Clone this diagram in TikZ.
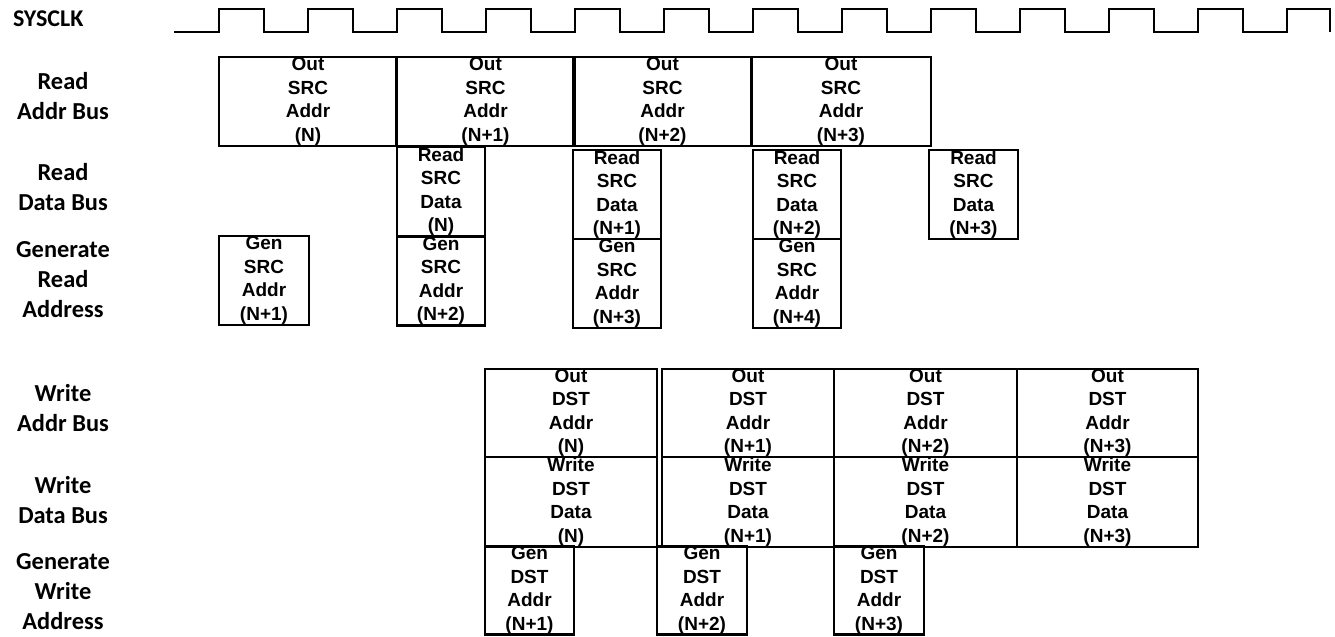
\documentclass[tikz,border=0pt]{standalone}
\usepackage{fontspec}
\setmainfont{Liberation Sans}[BoldFont={Liberation Sans Bold}]
\newfontfamily\boxfont{Liberation Sans}[BoldFont={Liberation Sans Bold}]
\newfontfamily\lblfont{Carlito}[BoldFont={Carlito Bold}]

\begin{document}
\begin{tikzpicture}[x=0.5pt,y=-0.5pt,
  bx/.style={draw, line width=1.45pt, inner sep=0pt, align=center,
    font=\boxfont\bfseries\fontsize{9.5}{11.75}\selectfont},
  wide/.style={bx, minimum width=89pt, minimum height=44.5pt},
  narrow/.style={bx, minimum width=44.5pt, minimum height=44.5pt},
  lbl/.style={align=center, font=\lblfont\bfseries\fontsize{12.2}{15}\selectfont}]
  \useasboundingbox (0,0) rectangle (1335,637);

  % clock
  \node[anchor=west, font=\lblfont\bfseries\fontsize{12}{14}\selectfont] (sysclk) at (6,19) {SYSCLK};
  \draw[line width=1.1pt] (174,32) -| (219,9) -| (264,32) -| (308,9) -| (353,32)
    -| (397,9) -| (442,32) -| (486,9) -| (531,32) -| (575,9) -| (620,32)
    -| (664,9) -| (709,32) -| (753,9) -| (798,32) -| (842,9) -| (887,32)
    -| (931,9) -| (976,32) -| (1020,9) -| (1065,32) -| (1109,9) -| (1154,32)
    -| (1198,9) -| (1243,32) -| (1287,9) -| (1330,32);

  % row labels
  \node[lbl] (lra) at (63,96)  {Read\\Addr Bus};
  \node[lbl] (lrd) at (63,187) {Read\\Data Bus};
  \node[lbl] (lgr) at (63,280) {Generate\\Read\\Address};
  \node[lbl] (lwa) at (63,408) {Write\\Addr Bus};
  \node[lbl] (lwd) at (63,500) {Write\\Data Bus};
  \node[lbl] (lgw) at (63,592) {Generate\\Write\\Address};

  % read side
  \node[wide] (rab1) at (308,101.5)   {Out\\SRC\\Addr\\(N)};
  \node[wide] (rab2) at (485.5,101.5) {Out\\SRC\\Addr\\(N+1)};
  \node[wide] (rab3) at (662.5,101.5) {Out\\SRC\\Addr\\(N+2)};
  \node[wide, minimum width=90pt] (rab4) at (841,101.5) {Out\\SRC\\Addr\\(N+3)};

  \node[narrow, minimum width=44pt, minimum height=45pt] (rdb1) at (441,191.5) {Read\\SRC\\Data\\(N)};
  \node[narrow, minimum width=44pt] (rdb2) at (617,194.5)   {Read\\SRC\\Data\\(N+1)};
  \node[narrow, minimum width=44pt] (rdb3) at (797,194.5)   {Read\\SRC\\Data\\(N+2)};
  \node[narrow] (rdb4) at (973.5,194.5) {Read\\SRC\\Data\\(N+3)};

  \node[narrow, minimum width=45pt] (gra1) at (264,280.5) {Gen\\SRC\\Addr\\(N+1)};
  \node[narrow, minimum width=44pt] (gra2) at (441,281)   {Gen\\SRC\\Addr\\(N+2)};
  \node[narrow, minimum width=44pt] (gra3) at (617,283.5) {Gen\\SRC\\Addr\\(N+3)};
  \node[narrow, minimum width=44pt] (gra4) at (797,283.5) {Gen\\SRC\\Addr\\(N+4)};

  % write side
  \node[wide, minimum width=86pt, minimum height=44pt] (wab1) at (571,413)    {Out\\DST\\Addr\\(N)};
  \node[wide, minimum width=86pt, minimum height=44pt] (wab2) at (748,413)    {Out\\DST\\Addr\\(N+1)};
  \node[wide, minimum width=91.5pt, minimum height=44pt] (wab3) at (925.5,413)  {Out\\DST\\Addr\\(N+2)};
  \node[wide, minimum width=90.5pt, minimum height=44pt] (wab4) at (1107.5,413) {Out\\DST\\Addr\\(N+3)};

  \node[wide, minimum width=86pt, minimum height=45pt] (wdb1) at (571,502)    {Write\\DST\\Data\\(N)};
  \node[wide, minimum width=86pt, minimum height=45pt] (wdb2) at (748,502)    {Write\\DST\\Data\\(N+1)};
  \node[wide, minimum width=91.5pt, minimum height=45pt] (wdb3) at (925.5,502)  {Write\\DST\\Data\\(N+2)};
  \node[wide, minimum width=90.5pt, minimum height=45pt] (wdb4) at (1107.5,502) {Write\\DST\\Data\\(N+3)};

  \node[narrow, minimum height=43.5pt] (gwa1) at (529.5,590.5) {Gen\\DST\\Addr\\(N+1)};
  \node[narrow, minimum width=45pt, minimum height=43.5pt] (gwa2) at (702,590.5) {Gen\\DST\\Addr\\(N+2)};
  \node[narrow, minimum width=45pt, minimum height=43.5pt] (gwa3) at (879,590.5) {Gen\\DST\\Addr\\(N+3)};
\end{tikzpicture}
\end{document}
